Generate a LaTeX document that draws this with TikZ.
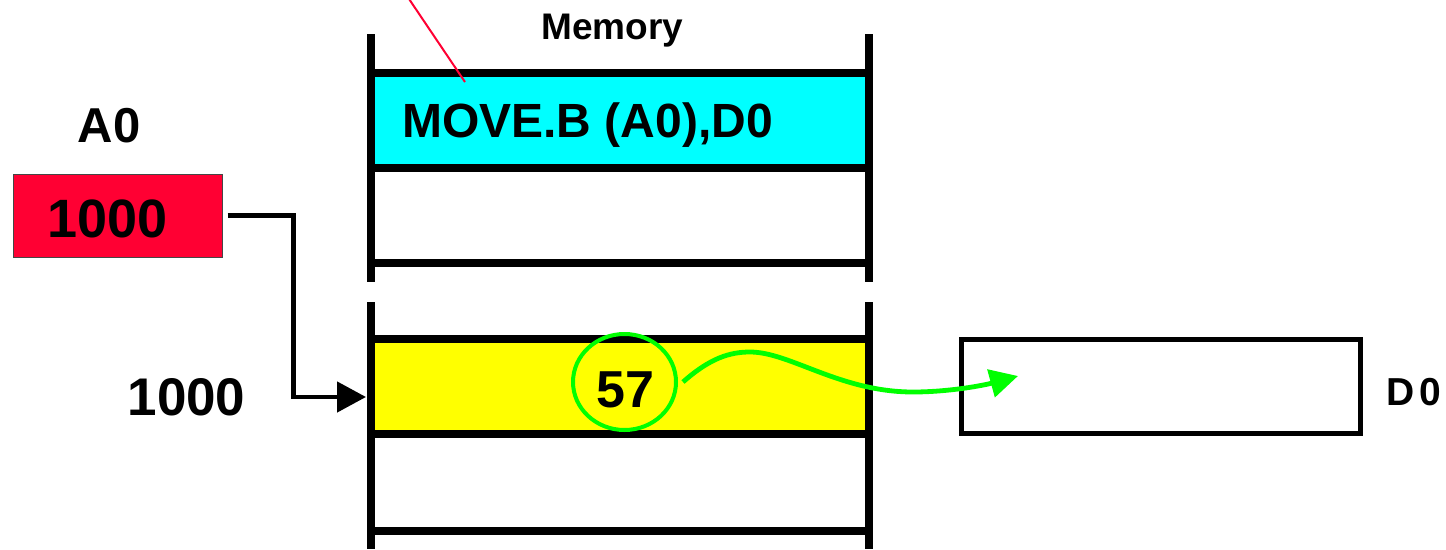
\documentclass[tikz,border=0pt]{standalone}
\usepackage{fontspec}
\setmainfont{Liberation Sans}
\usetikzlibrary{arrows.meta,shapes.geometric}
\definecolor{regred}{RGB}{255,0,51}
\definecolor{instrcyan}{RGB}{0,255,255}
\definecolor{datayellow}{RGB}{255,255,0}
\definecolor{flowgreen}{RGB}{0,255,0}
\definecolor{boxgray}{RGB}{70,70,70}
\begin{document}
\begin{tikzpicture}[x=1pt,y=-1pt,
  lbl/.style={font=\bfseries\fontsize{#1}{#1}\selectfont, inner sep=0pt, anchor=base},
  cell/.style={rectangle, inner sep=0pt, outer sep=0pt, draw=none, minimum width=498pt},
  memline/.style={line width=8pt, black},
  ptr/.style={line width=4.7pt, black, -{Triangle[length=29pt,width=30pt]}},
  flow/.style={line width=4.8pt, flowgreen, -{Triangle[length=28pt,width=28pt]}},
  lead/.style={line width=2pt, regred}
]
\useasboundingbox (0,0) rectangle (1446,549);

% memory cells (fills)
\node[cell, fill=instrcyan, minimum height=95.5pt] (instr) at (620,120.25) {};
\node[cell, minimum height=95pt] (cellb) at (620,215.5) {};
\node[cell, fill=datayellow, minimum height=95.5pt] (cdata) at (620,386.25) {};
\node[cell, minimum height=96.5pt] (celld) at (620,482.25) {};

% horizontal separators
\draw[memline] (instr.north west) -- (instr.north east);
\draw[memline] (instr.south west) -- (instr.south east);
\draw[memline] (cellb.south west) -- (cellb.south east);
\draw[memline] (cdata.north west) -- (cdata.north east);
\draw[memline] (cdata.south west) -- (cdata.south east);
\draw[memline] (celld.south west) -- (celld.south east);

% vertical sides
\draw[memline] (371,34) -- (371,282);
\draw[memline] (869,34) -- (869,282);
\draw[memline] (371,302) -- (371,549);
\draw[memline] (869,302) -- (869,549);

% texts
\node[lbl=37] (memlbl) at (612.5,39) {Memory};
\node[lbl=48, anchor=base west] (instrtext) at (402,137) {MOVE.B (A0),D0};
\node[lbl=49] (a0lbl) at (109,142) {A0};
\node[lbl=53] (addrlbl) at (186.5,415) {1000};

% A0 register
\node[rectangle, fill=regred, draw=boxgray, line width=1pt, inner sep=0pt,
      minimum width=209pt, minimum height=83pt] (a0) at (117.5,215.5) {};
\node[lbl=54] (a0val) at (107.5,237) {1000};

% D0 register
\node[rectangle, draw=black, line width=5pt, inner sep=0pt, outer sep=0pt,
      minimum width=399pt, minimum height=94pt] (d0) at (1161,386.5) {};
\node[lbl=39, anchor=base west] (d0lbl) at (1386,405) {D\kern5pt 0};

% data value and circle
\node[ellipse, draw=flowgreen, line width=4pt, inner sep=0pt,
      minimum width=103pt, minimum height=96pt] (c57) at (624.5,382) {};
\node[lbl=52] (v57) at (625.5,407) {57};

% pointer arrow
\coordinate (ptrend) at (366,397);
\draw[ptr] ([xshift=5pt]a0.east) -- ++(66,0) |- (ptrend);

% green transfer arrow
\coordinate (flowtip) at (1018,376);
\draw[flow] ([xshift=5pt]c57.east) .. controls (710,358) and (730,352) .. (750,352)
  .. controls (790,352) and (840,392) .. (913,392)
  .. controls (950,392) and (985,385) .. (flowtip);

% red leader line
\coordinate (leadin) at (465,82);
\coordinate (leadout) at (405,-7);
\draw[lead] (leadout) -- (leadin);
\end{tikzpicture}
\end{document}
